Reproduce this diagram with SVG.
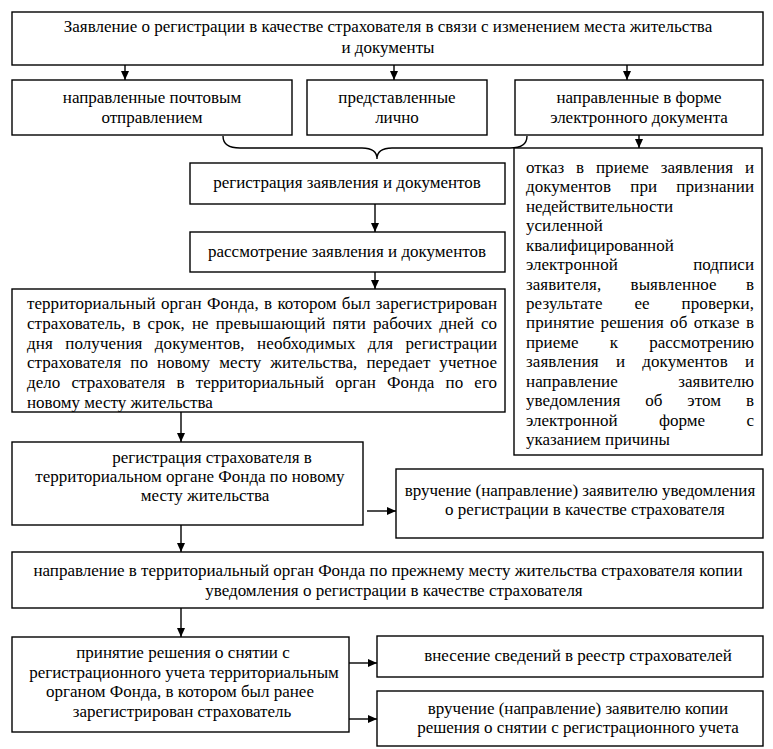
<svg xmlns="http://www.w3.org/2000/svg" width="773" height="749" viewBox="0 0 773 749">
<style>
.box{fill:#fff;stroke:#000;stroke-width:1.4}
.t{font-family:"Liberation Serif","Times New Roman",serif;font-size:17px;fill:#000}
.c{text-anchor:middle}
.ln{stroke:#000;stroke-width:1.4;fill:none}
.ar{stroke:#000;stroke-width:1.4;fill:none;marker-end:url(#ah)}
</style>
<defs>
<marker id="ah" markerUnits="userSpaceOnUse" markerWidth="9" markerHeight="8" refX="9" refY="4" orient="auto">
<path d="M0,0 L9,4 L0,8 z" fill="#000"/>
</marker>
</defs>
<rect width="773" height="749" fill="#fff"/>

<g id="connectors">
<line class="ar" x1="125" y1="65" x2="125" y2="80"/>
<line class="ar" x1="394" y1="65" x2="394" y2="80"/>
<line class="ar" x1="627" y1="65" x2="627" y2="80"/>
<line class="ar" x1="639" y1="135" x2="639" y2="148"/>
<path class="ln" d="M223,136 C223,144 228,148 240,148 L362,148 C372,148 377,151 377,159 C377,151 382,148 392,148 L510,148 C522,148 527,144 527,136"/>
<line class="ar" x1="375" y1="204" x2="375" y2="232"/>
<line class="ar" x1="375" y1="272" x2="375" y2="289"/>
<line class="ar" x1="181" y1="412" x2="181" y2="442"/>
<line class="ar" x1="367" y1="511" x2="396" y2="511"/>
<line class="ar" x1="181" y1="525" x2="181" y2="552"/>
<line class="ar" x1="181" y1="608" x2="181" y2="637"/>
<line class="ar" x1="349" y1="663" x2="377" y2="663"/>
<line class="ar" x1="349" y1="719" x2="377" y2="719"/>
</g>

<g id="n-top">
<rect class="box" x="12" y="12" width="751" height="53"/>
<text class="t c" x="388" y="32">Заявление о регистрации в качестве страхователя в связи с изменением места жительства</text>
<text class="t c" x="388" y="53">и документы</text>
</g>

<g id="n-post">
<rect class="box" x="12" y="80" width="280" height="55"/>
<text class="t c" x="152" y="103">направленные почтовым</text>
<text class="t c" x="152" y="123">отправлением</text>
</g>

<g id="n-personal">
<rect class="box" x="307" y="80" width="180" height="55"/>
<text class="t c" x="397" y="103">представленные</text>
<text class="t c" x="397" y="123">лично</text>
</g>

<g id="n-electronic">
<rect class="box" x="515" y="80" width="248" height="55"/>
<text class="t c" x="639" y="103">направленные в форме</text>
<text class="t c" x="639" y="123">электронного документа</text>
</g>

<g id="n-reg-app">
<rect class="box" x="190" y="163" width="315" height="41"/>
<text class="t c" x="347" y="188">регистрация заявления и документов</text>
</g>

<g id="n-review">
<rect class="box" x="190" y="232" width="315" height="40"/>
<text class="t c" x="347" y="257">рассмотрение заявления и документов</text>
</g>

<g id="n-transfer">
<rect class="box" x="12" y="289" width="493" height="123"/>
<text class="t" x="27" y="309" textLength="470" lengthAdjust="spacing" word-spacing="1">территориальный орган Фонда, в котором был зарегистрирован</text>
<text class="t" x="27" y="328.8" textLength="470" lengthAdjust="spacing" word-spacing="2.8">страхователь, в срок, не превышающий пяти рабочих дней со</text>
<text class="t" x="27" y="348.6" textLength="470" lengthAdjust="spacing" word-spacing="8">дня получения документов, необходимых для регистрации</text>
<text class="t" x="27" y="368.4" textLength="470" lengthAdjust="spacing" word-spacing="4.7">страхователя по новому месту жительства, передает учетное</text>
<text class="t" x="27" y="388.2" textLength="470" lengthAdjust="spacing" word-spacing="6.9">дело страхователя в территориальный орган Фонда по его</text>
<text class="t" x="27" y="408">новому месту жительства</text>
</g>

<g id="n-refusal">
<rect class="box" x="514" y="148" width="248" height="307"/>
<text class="t" x="526" y="173" textLength="228" lengthAdjust="spacing" word-spacing="7.5">отказ в приеме заявления и</text>
<text class="t" x="526" y="192.4" textLength="228" lengthAdjust="spacing" word-spacing="15">документов при признании</text>
<text class="t" x="526" y="211.9">недействительности</text>
<text class="t" x="526" y="231.3">усиленной</text>
<text class="t" x="526" y="250.7">квалифицированной</text>
<text class="t" x="526" y="270.1" textLength="228" lengthAdjust="spacing" word-spacing="71">электронной подписи</text>
<text class="t" x="526" y="289.6" textLength="228" lengthAdjust="spacing" word-spacing="25">заявителя, выявленное в</text>
<text class="t" x="526" y="309" textLength="228" lengthAdjust="spacing" word-spacing="27.5">результате ее проверки,</text>
<text class="t" x="526" y="328.4" textLength="228" lengthAdjust="spacing" word-spacing="2">принятие решения об отказе в</text>
<text class="t" x="526" y="347.9" textLength="228" lengthAdjust="spacing" word-spacing="27">приеме к рассмотрению</text>
<text class="t" x="526" y="367.3" textLength="228" lengthAdjust="spacing" word-spacing="12.8">заявления и документов и</text>
<text class="t" x="526" y="386.7" textLength="228" lengthAdjust="spacing" word-spacing="56">направление заявителю</text>
<text class="t" x="526" y="406.1" textLength="228" lengthAdjust="spacing" word-spacing="20.5">уведомления об этом в</text>
<text class="t" x="526" y="425.6" textLength="228" lengthAdjust="spacing" word-spacing="37">электронной форме с</text>
<text class="t" x="526" y="445">указанием причины</text>
</g>

<g id="n-reg-insurer">
<rect class="box" x="12" y="442" width="351" height="83"/>
<text class="t c" x="212" y="463">регистрация страхователя в</text>
<text class="t c" x="190" y="482">территориальном органе Фонда по новому</text>
<text class="t c" x="205" y="501">месту жительства</text>
</g>

<g id="n-notify">
<rect class="box" x="396" y="469" width="367" height="69"/>
<text class="t c" x="580" y="496">вручение (направление) заявителю уведомления</text>
<text class="t c" x="585" y="515">о регистрации в качестве страхователя</text>
</g>

<g id="n-send-copy">
<rect class="box" x="12" y="552" width="751" height="56"/>
<text class="t c" x="388" y="576">направление в территориальный орган Фонда по прежнему месту жительства страхователя копии</text>
<text class="t c" x="394" y="596">уведомления о регистрации в качестве страхователя</text>
</g>

<g id="n-deregister">
<rect class="box" x="12" y="637" width="337" height="95"/>
<text class="t c" x="183" y="658">принятие решения о снятии с</text>
<text class="t c" x="184" y="678">регистрационного учета территориальным</text>
<text class="t c" x="180" y="697">органом Фонда, в котором был ранее</text>
<text class="t c" x="182" y="717">зарегистрирован страхователь</text>
</g>

<g id="n-registry">
<rect class="box" x="377" y="636" width="386" height="41"/>
<text class="t c" x="578" y="661">внесение сведений в реестр страхователей</text>
</g>

<g id="n-copy-decision">
<rect class="box" x="377" y="691" width="386" height="55"/>
<text class="t c" x="578" y="714">вручение (направление) заявителю копии</text>
<text class="t c" x="578" y="733">решения о снятии с регистрационного учета</text>
</g>
</svg>
